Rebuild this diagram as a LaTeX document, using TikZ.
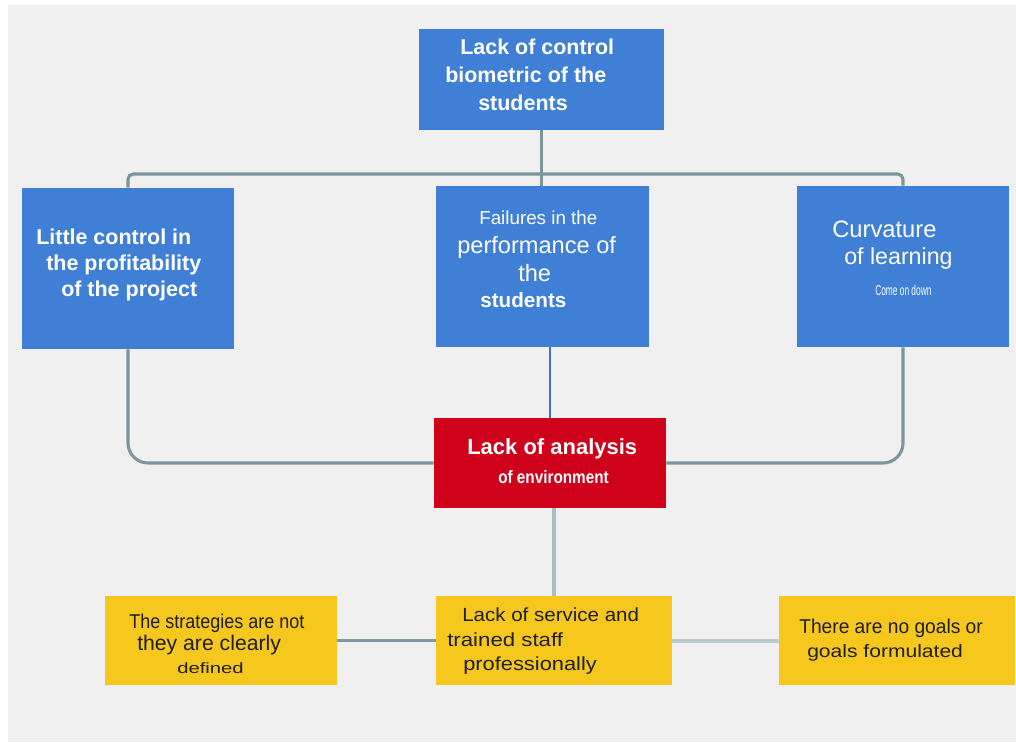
\documentclass[tikz,border=0pt]{standalone}
\usepackage{fontspec}
\usepackage{graphicx}
\setmainfont{Liberation Sans}
\usetikzlibrary{fit}
\definecolor{bgc}{HTML}{F0F0F0}
\definecolor{boxblue}{HTML}{3F7FD6}
\definecolor{boxred}{HTML}{D0021B}
\definecolor{boxyel}{HTML}{F6C81E}
\definecolor{conn}{HTML}{7A969B}
\definecolor{connblue}{HTML}{3F6FD0}
\definecolor{connlight}{HTML}{A9BDC7}
\definecolor{connmid}{HTML}{7F98A3}
\definecolor{connpale}{HTML}{BCCBCF}
\definecolor{darktext}{HTML}{1E1E1E}
\newcommand{\fsz}[1]{\fontsize{#1pt}{#1pt}\selectfont}
\newcommand{\sx}[2]{\scalebox{#1}[1]{#2}}
\tikzset{
  box/.style={rectangle, draw=none, inner sep=0pt},
  bluebox/.style={box, fill=boxblue},
  redbox/.style={box, fill=boxred},
  yelbox/.style={box, fill=boxyel},
  wtxt/.style={inner sep=0pt, anchor=base west, text=white},
  dtxt/.style={inner sep=0pt, anchor=base west, text=darktext},
  linkc/.style={draw=conn, line width=2.3pt},
}
\begin{document}
\begin{tikzpicture}[x=0.75pt,y=-0.75pt]
\useasboundingbox (0,0) rectangle (1016,742);
\fill[bgc] (8,5) rectangle (1016,742);

% boxes
\node[bluebox, fit={(419,29) (664,130)}] (T) {};
\node[bluebox, fit={(22,188) (234,349)}] (L) {};
\node[bluebox, fit={(436,186) (649,347)}] (M) {};
\node[bluebox, fit={(797,186) (1009,347)}] (R) {};
\node[redbox, fit={(434,418) (666,508)}] (Rd) {};
\node[yelbox, fit={(105,596) (337,685)}] (YL) {};
\node[yelbox, fit={(436,596) (672,685)}] (YM) {};
\node[yelbox, fit={(779,596) (1015,685)}] (YR) {};

% connectors
\coordinate (J) at (541.5,174);
\draw[linkc, rounded corners=4] (L.north) |- (J) -| (R.north);
\draw[linkc] (T.south) -- (T.south |- M.north);
\draw[linkc, rounded corners=15] (L.south) |- (Rd.west);
\draw[linkc, rounded corners=15] (R.south) |- (Rd.east);
\draw[draw=connblue, line width=1.5pt] (Rd.north |- M.south) -- (Rd.north);
\draw[draw=connlight, line width=3.6pt] (Rd.south -| YM.north) -- (YM.north);
\draw[draw=connmid, line width=2.6pt] (YL.east) -- (YM.west);
\draw[draw=connpale, line width=3pt] (YM.east) -- (YR.west);

% top box text
\node[wtxt] (t1) at (460,55) {\fsz{16.1}\bfseries Lack of control};
\node[wtxt] (t2) at (445,82) {\fsz{16.1}\bfseries biometric of the};
\node[wtxt] (t3) at (478,110) {\fsz{16.1}\bfseries students};

% left box text
\node[wtxt] (l1) at (36,244) {\fsz{16.1}\bfseries Little control in};
\node[wtxt] (l2) at (46,270) {\fsz{16.1}\bfseries the profitability};
\node[wtxt] (l3) at (61,296) {\fsz{16.1}\bfseries of the project};

% middle box text
\node[wtxt] (m1) at (479,224) {\fsz{14.1}Failures in the};
\node[wtxt] (m2) at (457,253) {\fsz{17.7}performance of};
\node[wtxt] (m3) at (518,281) {\fsz{17.7}the};
\node[wtxt] (m4) at (480,307) {\fsz{15.5}\bfseries students};

% right box text
\node[wtxt] (r1) at (832,237) {\fsz{17.8}Curvature};
\node[wtxt] (r2) at (844,264) {\fsz{17.4}of learning};
\node[wtxt] (r3) at (875,295) {\sx{0.58}{\fsz{10.8}Come on down}};

% red box text
\node[wtxt] (d1) at (467,454) {\fsz{16.5}\bfseries Lack of analysis};
\node[wtxt] (d2) at (498,483) {\sx{0.85}{\fsz{13.5}\bfseries of environment}};

% yellow left text
\node[dtxt] (a1) at (129,628) {\sx{0.9}{\fsz{15}The strategies are not}};
\node[dtxt] (a2) at (137,650) {\fsz{15.9}they are clearly};
\node[dtxt] (a3) at (177,673) {\sx{1.35}{\fsz{11.25}defined}};

% yellow middle text
\node[dtxt] (b1) at (462,621) {\sx{1.08}{\fsz{14.25}Lack of service and}};
\node[dtxt] (b2) at (447,646) {\sx{1.17}{\fsz{14.25}trained staff}};
\node[dtxt] (b3) at (463,670) {\sx{1.15}{\fsz{14.25}professionally}};

% yellow right text
\node[dtxt] (c1) at (799,633) {\sx{0.96}{\fsz{15}There are no goals or}};
\node[dtxt] (c2) at (807,657) {\sx{1.17}{\fsz{13.5}goals formulated}};
\end{tikzpicture}
\end{document}
